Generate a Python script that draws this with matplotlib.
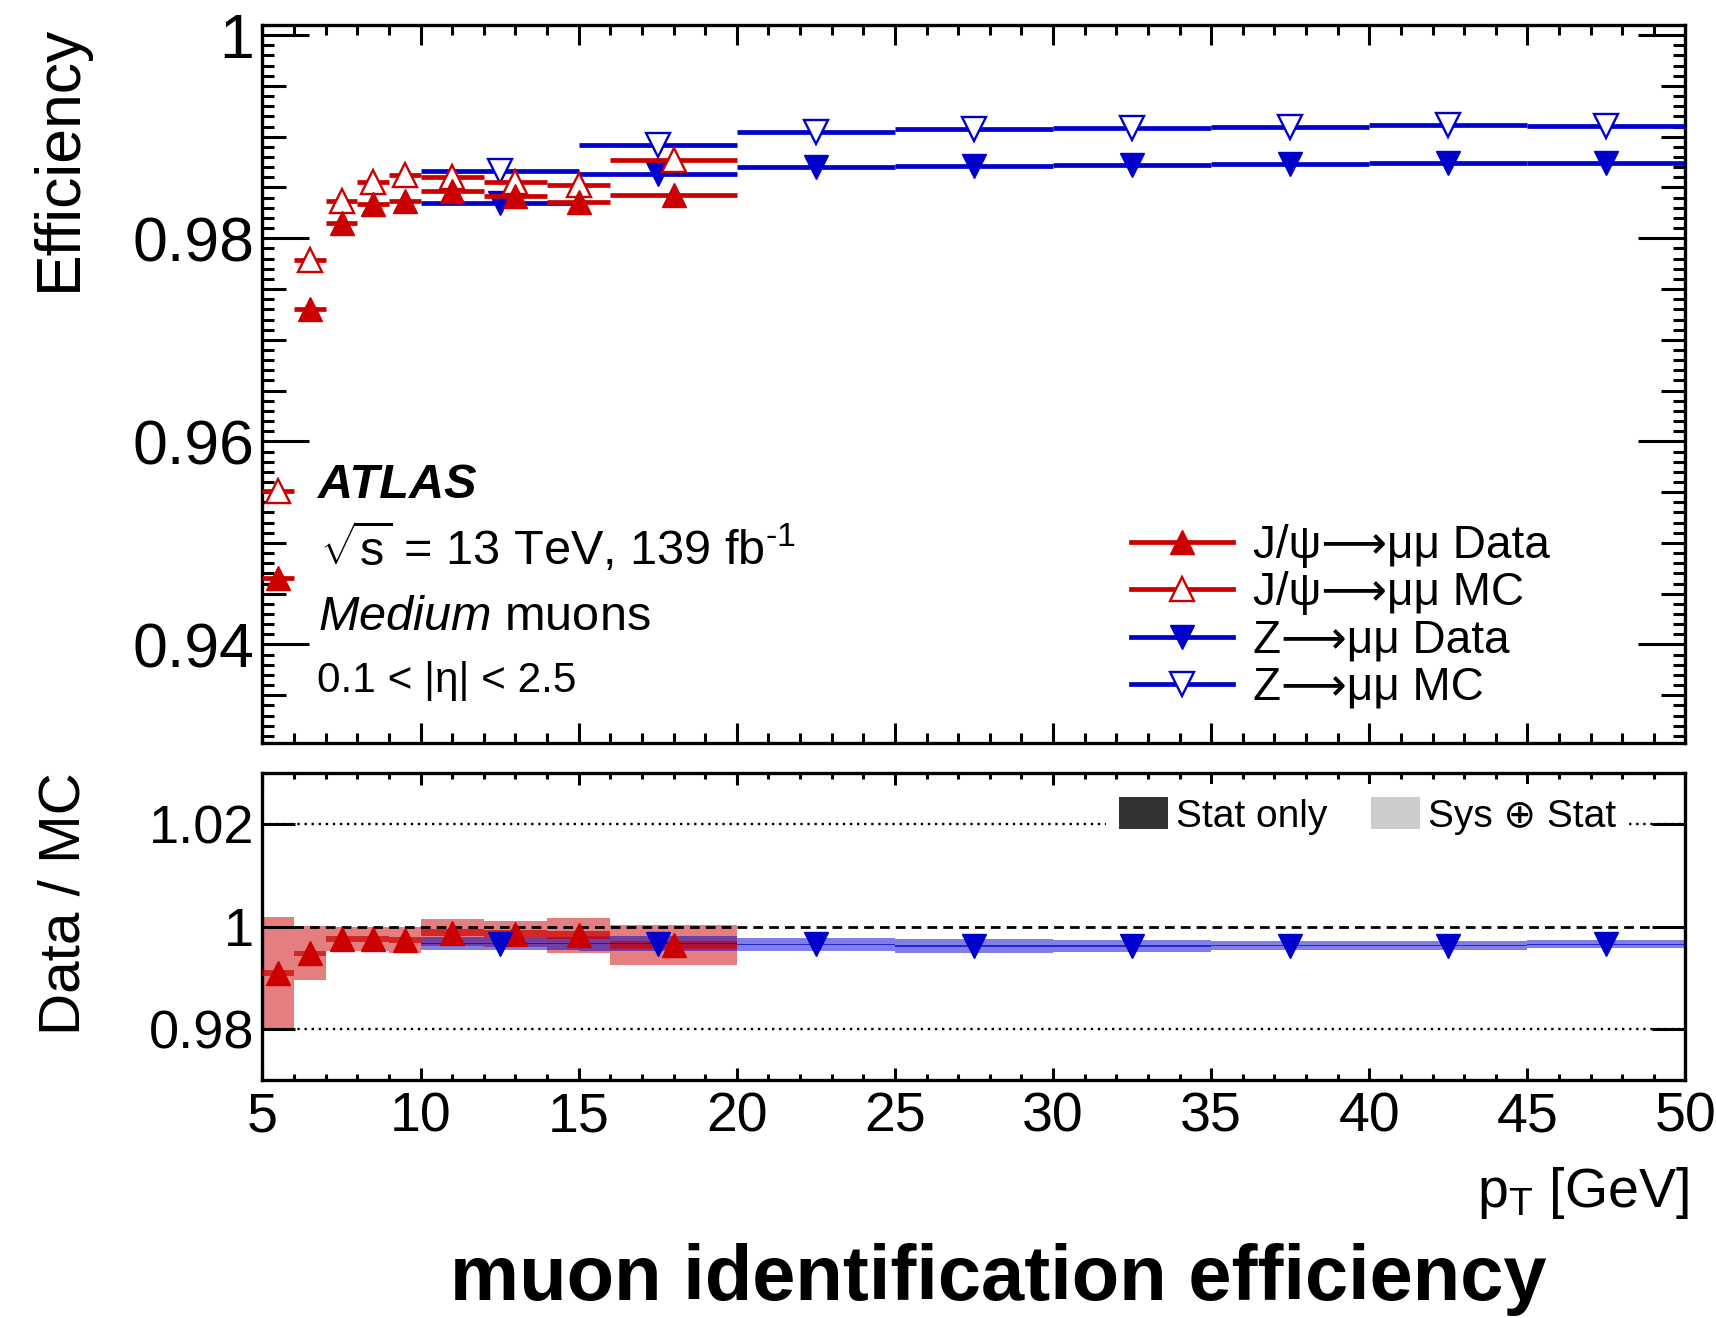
import matplotlib
matplotlib.use("Agg")
import matplotlib.pyplot as plt
import numpy as np
from matplotlib.lines import Line2D
from matplotlib.patches import Patch
from matplotlib.ticker import MultipleLocator, FixedLocator, FuncFormatter

plt.rcParams["font.family"] = ["Liberation Sans", "DejaVu Sans"]
plt.rcParams["mathtext.fontset"] = "custom"
plt.rcParams["mathtext.rm"] = "Liberation Sans"
plt.rcParams["mathtext.it"] = "Liberation Sans:italic"
plt.rcParams["mathtext.bf"] = "Liberation Sans:bold"

RED = "#cc0000"
BLUE = "#0000cc"

# J/psi -> mumu bins (pT edges in GeV)
jpsi_lo = [5, 6, 7, 8, 9, 10, 12, 14, 16]
jpsi_hi = [6, 7, 8, 9, 10, 12, 14, 16, 20]
jpsi_data = [0.9465, 0.9730, 0.9815, 0.9834, 0.9837, 0.9847, 0.9842, 0.9836, 0.9843]
jpsi_mc = [0.9551, 0.9779, 0.9837, 0.9855, 0.9862, 0.9860, 0.9855, 0.9852, 0.9877]
jpsi_ratio = [0.9910, 0.9948, 0.9976, 0.9976, 0.9974, 0.9988, 0.9986, 0.9983, 0.9964]
jpsi_ratio_sys = [0.0108, 0.0053, 0.0023, 0.0023, 0.0025, 0.0026, 0.0026, 0.0034, 0.0039]
jpsi_ratio_stat = [0.0006, 0.0005, 0.0006, 0.0006, 0.0006, 0.0007, 0.0007, 0.0008, 0.0007]

# Z -> mumu bins
z_lo = [10, 15, 20, 25, 30, 35, 40, 45]
z_hi = [15, 20, 25, 30, 35, 40, 45, 50]
z_data = [0.98345, 0.9863, 0.98705, 0.98715, 0.98718, 0.98731, 0.98741, 0.98741]
z_mc = [0.98662, 0.98918, 0.99049, 0.99079, 0.99090, 0.99098, 0.99115, 0.99105]
z_ratio = [0.9967, 0.9967, 0.99655, 0.9962, 0.9962, 0.9963, 0.9963, 0.99655]
z_ratio_sys = [0.0012, 0.0014, 0.0013, 0.0013, 0.0011, 0.0009, 0.0009, 0.0008]
z_ratio_stat = [0.00015, 0.00015, 0.00015, 0.00015, 0.00015, 0.00015, 0.00015, 0.00015]

legend_labels = ["J/ψ⟶μμ Data", "J/ψ⟶μμ MC", "Z⟶μμ Data", "Z⟶μμ MC"]

jlo, jhi = np.array(jpsi_lo, float), np.array(jpsi_hi, float)
zlo, zhi = np.array(z_lo, float), np.array(z_hi, float)
jx, jw = (jlo + jhi) / 2, jhi - jlo
zx, zw = (zlo + zhi) / 2, zhi - zlo

fig = plt.figure(figsize=(17.16, 13.18), dpi=100)
ax = fig.add_axes([0.15297, 0.43627, 0.82925, 0.54476])
axr = fig.add_axes([0.15297, 0.18058, 0.82925, 0.2327])

MS = 17
ELW = 3.4

# upper panel
ax.errorbar(zx, z_mc, xerr=zw / 2, fmt="v", color=BLUE, ms=MS, mfc="white", mec=BLUE,
            mew=1.7, elinewidth=ELW, capsize=0, zorder=3)
ax.errorbar(zx, z_data, xerr=zw / 2, fmt="v", color=BLUE, ms=MS, mfc=BLUE, mec=BLUE,
            elinewidth=ELW, capsize=0, zorder=3)
ax.errorbar(jx, jpsi_mc, xerr=jw / 2, fmt="^", color=RED, ms=MS, mfc="white", mec=RED,
            mew=1.7, elinewidth=ELW, capsize=0, zorder=4)
ax.errorbar(jx, jpsi_data, xerr=jw / 2, fmt="^", color=RED, ms=MS, mfc=RED, mec=RED,
            elinewidth=ELW, capsize=0, zorder=4)

ax.set_xlim(5, 50)
ax.set_ylim(0.9303, 1.001)

handles = [
    Line2D([], [], color=RED, lw=ELW, marker="^", ms=MS, mfc=RED, mec=RED),
    Line2D([], [], color=RED, lw=ELW, marker="^", ms=MS, mfc="white", mec=RED, mew=1.7),
    Line2D([], [], color=BLUE, lw=ELW, marker="v", ms=MS, mfc=BLUE, mec=BLUE),
    Line2D([], [], color=BLUE, lw=ELW, marker="v", ms=MS, mfc="white", mec=BLUE, mew=1.7),
]
ax.legend(handles, legend_labels, loc="center left", bbox_to_anchor=(0.6103, 0.1755),
          frameon=False, fontsize=33, handlelength=2.23, handletextpad=0.44,
          labelspacing=0.07, borderpad=0, borderaxespad=0)

ax.text(0.039, 0.3412, "ATLAS", transform=ax.transAxes, fontsize=35,
        fontweight="bold", fontstyle="italic", va="baseline")
ax.text(0.0404, 0.2479, r"$\sqrt{\mathrm{s}}$ = 13 TeV, 139 fb$^{\text{-1}}$",
        transform=ax.transAxes, fontsize=35, va="baseline")
ax.text(0.039, 0.1574, r"$\mathit{Medium}$ muons", transform=ax.transAxes,
        fontsize=35, va="baseline")
ax.text(0.038, 0.0710, "0.1 < |η| < 2.5", transform=ax.transAxes,
        fontsize=30.5, va="baseline")

# ratio panel
axr.bar(jx, 2 * np.array(jpsi_ratio_sys), bottom=np.array(jpsi_ratio) - jpsi_ratio_sys,
        width=jw, color=RED, alpha=0.5, lw=0, zorder=1)
axr.bar(zx, 2 * np.array(z_ratio_sys), bottom=np.array(z_ratio) - z_ratio_sys,
        width=zw, color=BLUE, alpha=0.5, lw=0, zorder=2)
axr.bar(jx, 2 * np.array(jpsi_ratio_stat), bottom=np.array(jpsi_ratio) - jpsi_ratio_stat,
        width=jw, color=RED, alpha=0.7, lw=0, zorder=3)
axr.bar(zx, 2 * np.array(z_ratio_stat), bottom=np.array(z_ratio) - z_ratio_stat,
        width=zw, color=BLUE, alpha=0.7, lw=0, zorder=4)
axr.plot(jx, jpsi_ratio, "^", color=RED, ms=MS, zorder=6)
axr.plot(zx, z_ratio, "v", color=BLUE, ms=MS, zorder=6)

axr.axhline(1.0, color="black", ls=(0, (3.5, 2.2)), lw=2.0, zorder=5)
axr.axhline(1.02, color="black", ls=(0, (1, 2)), lw=1.7, zorder=0)
axr.axhline(0.98, color="black", ls=(0, (1, 2)), lw=1.7, zorder=0)

axr.set_xlim(5, 50)
axr.set_ylim(0.97, 1.03)

rhandles = [Patch(facecolor="#333333", edgecolor="none"),
            Patch(facecolor="#cccccc", edgecolor="none")]
leg = axr.legend(rhandles, ["Stat only", "Sys ⊕ Stat"], loc="center left",
                 bbox_to_anchor=(0.5928, 0.861), ncol=2, fontsize=28,
                 handlelength=1.26, handleheight=0.9, handletextpad=0.22,
                 columnspacing=1.1, borderpad=0.33, borderaxespad=0,
                 frameon=True, fancybox=False, framealpha=1)
leg.get_frame().set_facecolor("white")
leg.get_frame().set_edgecolor("none")
leg.set_zorder(7)

# ticks
for a in (ax, axr):
    a.xaxis.set_major_locator(MultipleLocator(5))
    a.xaxis.set_minor_locator(MultipleLocator(1))
    a.tick_params(axis="both", which="both", direction="in", top=True, right=True,
                  width=2.2)
    for s in a.spines.values():
        s.set_linewidth(2.4)

ax.tick_params(axis="x", which="major", length=14.4, labelbottom=False)
ax.tick_params(axis="x", which="minor", length=7.2)
ax.yaxis.set_major_locator(FixedLocator([0.94, 0.96, 0.98, 1.0]))
ax.yaxis.set_major_formatter(FuncFormatter(lambda v, p: "1" if abs(v - 1) < 1e-9 else f"{v:.2f}"))
minor_k = [k for k in range(931, 1001) if k % 20 != 0]
ax.yaxis.set_minor_locator(FixedLocator([k / 1000 for k in minor_k]))
ax.tick_params(axis="y", which="major", length=33.8, labelsize=45, pad=6)
ax.tick_params(axis="y", which="minor", length=8.6)

axr.tick_params(axis="x", which="major", length=8.6, labelsize=40, pad=8)
axr.tick_params(axis="x", which="minor", length=4.3)
axr.yaxis.set_major_locator(FixedLocator([0.98, 1.0, 1.02]))
axr.yaxis.set_minor_locator(FixedLocator([]))
axr.yaxis.set_major_formatter(FuncFormatter(lambda v, p: "1" if abs(v - 1) < 1e-9 else f"{v:.2f}"))
axr.tick_params(axis="y", which="major", length=23.8, labelsize=39, pad=6)

# medium ticks every 0.005
mticks = ax.yaxis.get_minor_ticks(len(minor_k))
for k, t in zip(minor_k, mticks):
    if k % 5 == 0:
        t.tick1line.set_markersize(17.3)
        t.tick2line.set_markersize(17.3)

fig.text(59 / 1716, 1 - 25 / 1318, "Efficiency", rotation=90, ha="center", va="top",
         fontsize=45)
fig.text(64 / 1716, 1 - 772 / 1318, "Data / MC", rotation=90, ha="center", va="top",
         fontsize=42)
fig.text(1689 / 1716, 1 - 1207 / 1318, r"p$_{\mathrm{T}}$ [GeV]", ha="right",
         va="baseline", fontsize=40)
fig.text(998 / 1716, 1 - 1300 / 1318, "muon identification efficiency", ha="center",
         va="baseline", fontsize=56, fontweight="bold")

fig.savefig("out.png", dpi=100)
